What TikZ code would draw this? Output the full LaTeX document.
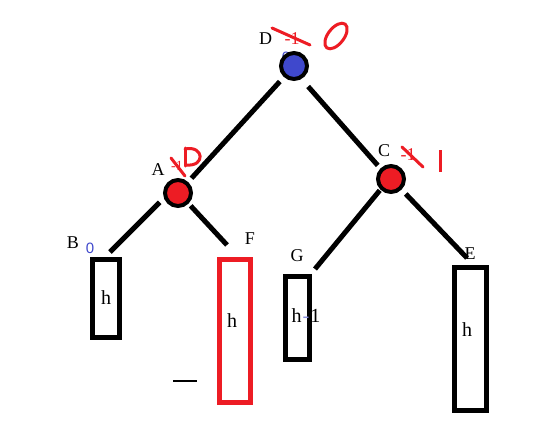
\documentclass[tikz,border=0pt]{standalone}
\usepackage{fontspec}
\setmainfont{Liberation Serif}
\newfontfamily\blufont{Liberation Sans}
\usetikzlibrary{calc}
\definecolor{pred}{HTML}{ED1C24}
\definecolor{pblue}{HTML}{3F48CC}
\begin{document}
\begin{tikzpicture}[x=1pt,y=-1pt,
  vert/.style={circle,draw=black,line width=4pt,inner sep=0pt,minimum size=26pt},
  leaf/.style={rectangle,draw=black,line width=5pt,inner sep=0pt},
  edge/.style={line width=5pt},
  lbl/.style={font=\fontsize{18}{20}\selectfont,inner sep=0pt},
  hlbl/.style={font=\fontsize{20}{22}\selectfont,inner sep=0pt},
  small/.style={font=\fontsize{14}{16}\selectfont,inner sep=0pt},
  ann/.style={draw=pred,line width=3pt,line cap=round,line join=round}
]
\useasboundingbox (0,0) rectangle (554,428);
\fill[white] (0,0) rectangle (554,428);

% hidden blue mark behind D
\node[small,text=pblue,font=\blufont\fontsize{15}{17}\selectfont] (dz) at (286,57) {0};

% vertices
\node[vert,fill=pblue] (D) at (294,66) {};
\node[vert,fill=pred] (A) at (178,193) {};
\node[vert,fill=pred] (C) at (391,179) {};

% subtrees
\node[leaf,minimum width=27pt,minimum height=78pt] (B) at (106,298.5) {};
\node[leaf,draw=pred,minimum width=31pt,minimum height=143pt] (F) at (235,331) {};
\node[leaf,minimum width=24pt,minimum height=83pt] (G) at (297.5,318) {};
\node[leaf,minimum width=32pt,minimum height=143pt] (E) at (470.5,339) {};

% edges
\draw[edge,shorten <=5pt,shorten >=6pt] (A) -- (D);
\draw[edge,shorten <=10pt,shorten >=4pt] (D.-60) -- (C.135);
\draw[edge,shorten <=6pt] (A.200) -- ($(B.north)+(4,-5)$);
\draw[edge,shorten <=3pt] (A.-45) -- ($(F.north west)+(10,-12)$);
\draw[edge,shorten <=1pt] (C.225) -- ($(G.north east)+(3,-5)$);
\draw[edge,shorten <=6pt] (C.-45) -- ($(E.north)+(-3.5,-7)$);

% labels
\node[lbl] (lD) at (265.5,39) {D};
\node[lbl] (lA) at (158,170) {A};
\node[lbl] (lC) at (384,151) {C};
\node[lbl] (lB) at (73,243) {B};
\node[lbl] (lF) at (250,239) {F};
\node[lbl] (lG) at (297,256) {G};
\node[lbl] (lE) at (470,254) {E};
\node[small,text=pblue,font=\blufont\fontsize{15}{17}\selectfont] (zB) at (90,248) {0};

\node[hlbl] (hB) at (106,298) {h};
\node[hlbl] (hF) at (232,321) {h};
\node[hlbl] (hG) at (306,316) {h\kern1pt{\color{pblue!60}-}\kern1pt1};
\node[hlbl] (hE) at (467,330) {h};

% red annotations near D
\node[lbl,text=pred] (mD) at (292,39) {-1};
\draw[ann] (272,28) -- (310,45);
\draw[ann,rotate around={52:(336,36)}] (336,36) ellipse [x radius=15,y radius=8];

% red annotations near A
\node[small,text=pred] (mA) at (177,166) {-1};
\draw[ann] (171,158) -- (185,176);
\draw[ann] (185,148) -- (185,166);
\draw[ann] (185,149) .. controls (204,145) and (206,167) .. (186,165);

% red annotations near C
\node[lbl,text=pred] (mC) at (408,155) {-1};
\draw[ann] (402,147) -- (423,167);
\draw[ann,line cap=butt] (440,150) -- (440,172);

% small stray line
\coordinate (s1) at (173,381);
\coordinate (s2) at (197,381);
\draw[line width=1.2pt] (s1) -- (s2);
\end{tikzpicture}
\end{document}
